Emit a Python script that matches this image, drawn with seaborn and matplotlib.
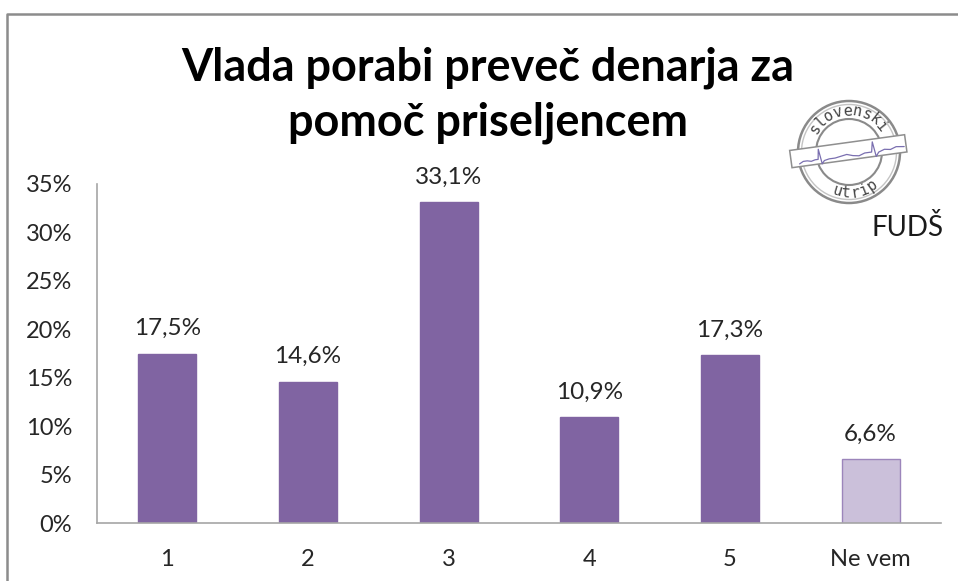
import numpy as np
import pandas as pd
import matplotlib
matplotlib.use("Agg")
import matplotlib.pyplot as plt
from matplotlib.patches import Circle, Polygon
import seaborn as sns

categories = ["1", "2", "3", "4", "5", "Ne vem"]
values = [17.5, 14.6, 33.1, 10.9, 17.3, 6.6]
value_labels = ["17,5%", "14,6%", "33,1%", "10,9%", "17,3%", "6,6%"]
y_ticks = [0, 5, 10, 15, 20, 25, 30, 35]
title = "Vlada porabi preveč denarja za\npomoč priseljencem"
bar_colors = ["#8064A2"] * 5 + ["#CBC0DA"]
edge_colors = ["#8064A2"] * 5 + ["#9C85BB"]

W, H = 958, 581
sns.set_theme(style="white")
plt.rcParams["font.family"] = ["Lato", "DejaVu Sans"]

fig = plt.figure(figsize=(W / 100, H / 100), dpi=100)
fig.patch.set_facecolor("white")
ax = fig.add_axes([97 / W, 1 - 523 / H, (941 - 97) / W, (523 - 184) / H])

df = pd.DataFrame({"cat": categories, "val": values})
sns.barplot(data=df, x="cat", y="val", hue="cat", palette=bar_colors, legend=False,
            width=0.41, ax=ax, saturation=1)
for patch, ec in zip(ax.patches, edge_colors):
    patch.set_edgecolor(ec)
    patch.set_linewidth(1)

ax.set_xlim(-0.5, 5.5)
ax.set_ylim(0, 35)
ax.set_yticks(y_ticks)
ax.set_yticklabels([f"{t}%" for t in y_ticks])
ax.set_xlabel("")
ax.set_ylabel("")
ax.tick_params(axis="both", length=0, labelsize=17, labelcolor="#262626")
ax.tick_params(axis="x", pad=19)
ax.tick_params(axis="y", pad=18)
for s in ("top", "right"):
    ax.spines[s].set_visible(False)
for s in ("left", "bottom"):
    ax.spines[s].set_color("#A6A6A6")
    ax.spines[s].set_linewidth(1.2)

for i, (v, lab) in enumerate(zip(values, value_labels)):
    ax.annotate(lab, (i, v), xytext=(0, 10.5), textcoords="offset points",
                ha="center", va="bottom", fontsize=17.5, color="#262626")

# Title
fig.text(488 / W, 1 - 95 / H, title, ha="center", va="center", fontsize=32.4,
         fontweight="bold", color="black", linespacing=1.38)

# Chart frame
over = fig.add_axes([0, 0, 1, 1], facecolor="none")
over.set_xlim(0, W)
over.set_ylim(H, 0)
over.axis("off")
over.plot([7, 7, 958], [581, 13.5, 13.5], color="#8C8C8C", lw=1.8, solid_capstyle="butt")

# Logo stamp
cx, cy = 849, 152
ring = "#8A8A8A"
over.add_patch(Circle((cx, cy), 51, fill=False, ec=ring, lw=1.8))
over.add_patch(Circle((cx, cy), 47.5, fill=False, ec="#C4C4C4", lw=1.0))
over.add_patch(Circle((cx, cy), 33, fill=False, ec=ring, lw=1.5))

angle = np.deg2rad(-7.8)
u = np.array([np.cos(angle), np.sin(angle)])
n = np.array([-u[1], u[0]])
c = np.array([848.3, 151.2])
corners = [c - 58 * u - 8.7 * n, c + 58 * u - 8.7 * n, c + 58 * u + 8.7 * n, c - 58 * u + 8.7 * n]
over.add_patch(Polygon(corners, closed=True, fc="white", ec="#8F8F8F", lw=1.1, zorder=3))

ecg_t = [-50, -46, -42, -38, -34, -31, -29.5, -27.5, -25, -20, -14, -8, -2, 4, 10, 16, 20,
         23, 25, 27, 30, 36, 42, 48, 56]
ecg_v = [6, 4, 4, 5, 4, 4, -6, 9, 6, 5, 5, 4, 3, 5, 6, 4, 4, 4, -6, 9, 5, 3, 4, 2, 3]
ecg = np.array([c + ti * u + vi * n for ti, vi in zip(ecg_t, ecg_v)])
over.plot(ecg[:, 0], ecg[:, 1], color="#7A6FB0", lw=0.9, zorder=4)

def arc_text(word, radius, a_start, a_step, top=True):
    for i, ch in enumerate(word):
        a = np.deg2rad(a_start + i * a_step)
        x = cx + radius * np.sin(a)
        y = cy - radius * np.cos(a) if top else cy + radius * np.cos(a)
        rot = -np.rad2deg(a) if top else np.rad2deg(a)
        over.text(x, y, ch, family="DejaVu Sans Mono", fontsize=11, color="#444444",
                  ha="center", va="center", rotation=rot, rotation_mode="anchor", zorder=4)

arc_text("slovenski", 41, -56, 13.4, top=True)
arc_text("utrip", 41, -17, 13, top=False)

# Logo caption
over.text(908, 227.5, "FUDŠ", ha="center", va="center", fontsize=20, color="#1A1A1A", zorder=5)

fig.savefig("out.png", dpi=100, facecolor="white")
